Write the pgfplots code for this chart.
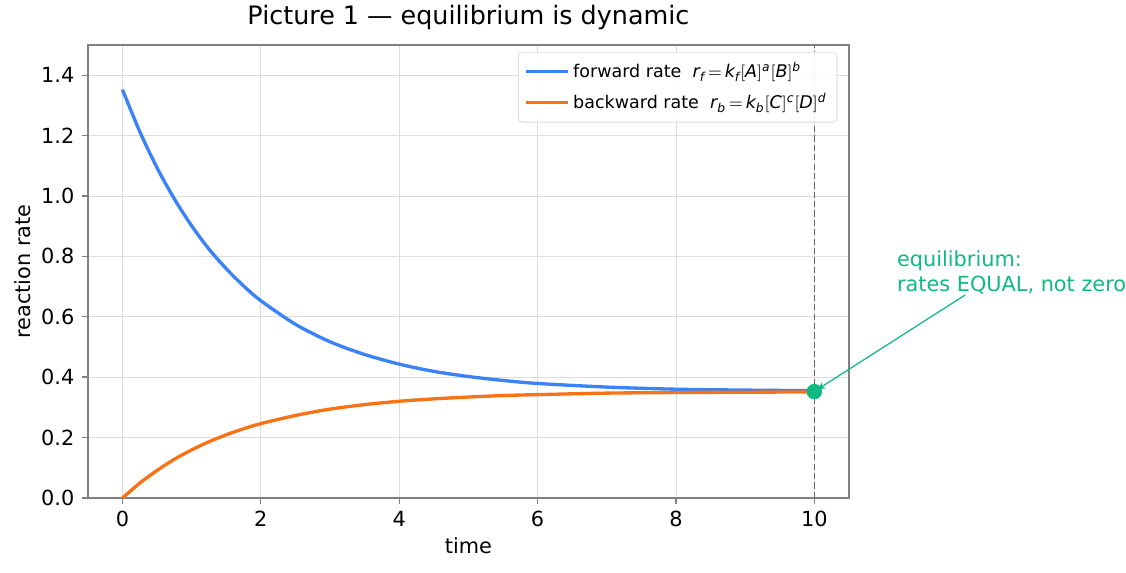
\documentclass[border=0pt]{standalone}
\usepackage{amsmath}
\usepackage{fontspec}
\setmainfont{DejaVu Sans}
\usepackage{pgfplots}
\pgfplotsset{compat=1.18}
\definecolor{fwd}{HTML}{3B82F6}
\definecolor{bwd}{HTML}{F97316}
\definecolor{eq}{HTML}{10B981}
\definecolor{gridc}{HTML}{DCDCDC}
\definecolor{axc}{HTML}{808080}
\definecolor{dashc}{HTML}{5F6670}
\begin{document}
\begin{tikzpicture}
\useasboundingbox (-42.2pt,-36pt) rectangle (498.3pt,239pt);
\begin{axis}[
  at={(0,0)}, anchor=south west,
  scale only axis, width=365.3pt, height=217.4pt,
  xmin=-0.5, xmax=10.5, ymin=0, ymax=1.5,
  xtick={0,2,4,6,8,10}, ytick={0,0.2,0.4,0.6,0.8,1.0,1.2,1.4},
  yticklabel style={/pgf/number format/.cd, fixed, fixed zerofill, precision=1},
  /pgf/number format/assume math mode=true,
  tick label style={font=\fontsize{10}{12}\selectfont},
  grid=major, grid style={gridc, line width=0.4pt},
  axis line style={axc, line width=0.6pt},
  tick style={axc, line width=0.6pt},
  tick align=outside, tickpos=left,
  major tick length=3pt,
  xlabel={time}, ylabel={reaction rate},
  label style={font=\fontsize{10}{12}\selectfont},
  xlabel style={yshift=2pt}, ylabel style={yshift=-2pt},
  title={Picture 1 — equilibrium is dynamic},
  title style={font=\fontsize{12.2}{14}\selectfont, yshift=-2pt},
  legend pos=north east,
  legend style={font=\fontsize{8.4}{10}\selectfont, draw=gridc, rounded corners=2pt, fill=white, fill opacity=0.9, text opacity=1, row sep=2pt, inner sep=3pt, at={(0.985,0.985)}},
  legend image code/.code={\draw[#1, line width=1.4pt] (0cm,0cm) -- (0.7cm,0cm);},
  legend cell align=left,
  clip=false,
]
\addplot[fwd, line width=1.6pt, smooth] coordinates {
(0,1.352) (0.25,1.213) (0.5,1.093) (0.75,0.990) (1,0.901) (1.25,0.824) (1.5,0.759) (1.75,0.702) (2,0.653) (2.5,0.575) (3,0.517) (3.5,0.475) (4,0.443) (4.5,0.419) (5,0.402) (5.5,0.389) (6,0.379) (7,0.367) (8,0.360) (9,0.357) (10,0.355)};
\addlegendentry{forward rate\ \ $\textit{r}_{\textit{f}}\,{=}\,\textit{k}_{\textit{f}}[\textit{A}]^{\textit{a}}[\textit{B}]^{\textit{b}}$}
\addplot[bwd, line width=1.6pt, smooth] coordinates {
(0,0) (0.25,0.049) (0.5,0.091) (0.75,0.128) (1,0.159) (1.25,0.186) (1.5,0.209) (1.75,0.229) (2,0.246) (2.5,0.273) (3,0.294) (3.5,0.309) (4,0.320) (4.5,0.328) (5,0.334) (5.5,0.339) (6,0.342) (7,0.347) (8,0.349) (9,0.350) (10,0.351)};
\addlegendentry{backward rate\ \ $\textit{r}_{\textit{b}}\,{=}\,\textit{k}_{\textit{b}}[\textit{C}]^{\textit{c}}[\textit{D}]^{\textit{d}}$}
\addplot[dashc, dash pattern=on 3pt off 1.5pt, line width=0.6pt, forget plot] coordinates {(10,0) (10,1.5)};
\addplot[only marks, mark=*, mark size=3.5pt, eq, forget plot] coordinates {(10,0.352)};
\draw[eq, line width=0.6pt, -stealth] (axis cs:12.18,0.672) -- (axis cs:10.05,0.36);
\node[anchor=north west, align=left, text=eq, font=\fontsize{10}{12}\selectfont, inner sep=0pt] at (axis cs:11.19,0.82) {equilibrium:\\rates EQUAL, not zero};
\end{axis}
\end{tikzpicture}
\end{document}
